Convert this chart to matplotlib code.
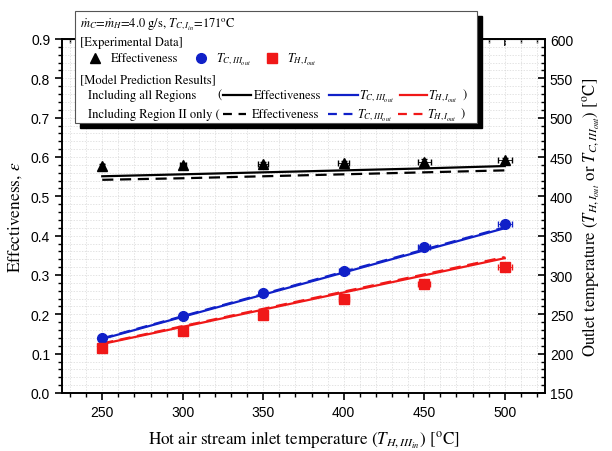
import matplotlib
matplotlib.use("Agg")
import matplotlib.pyplot as plt
from matplotlib.ticker import MultipleLocator
from matplotlib.lines import Line2D
from matplotlib.patches import Rectangle

plt.rcParams['mathtext.fontset'] = 'stix'
plt.rcParams['font.family'] = ['STIXGeneral', 'Liberation Serif', 'DejaVu Serif']

# ---- data ----
t_hot_in = [250, 300, 350, 400, 450, 500]
eff_exp = [0.578, 0.580, 0.583, 0.585, 0.588, 0.592]
eff_err_x = [1.0, 2.0, 3.0, 3.5, 4.0, 4.5]
eff_err_y = [0.003, 0.004, 0.005, 0.005, 0.006, 0.006]
tc_exp = [219.6, 248.3, 276.8, 305.6, 335.4, 364.6]
th_exp = [207.2, 228.5, 249.2, 269.2, 289.1, 309.9]
t_err_x = [1.0, 2.0, 2.5, 3.0, 3.7, 4.5]
t_err_y = [1.5, 1.5, 2.0, 2.0, 2.5, 2.5]

eff_model_all = [0.551, 0.556, 0.561, 0.566, 0.571, 0.577]
eff_model_r2 = [0.542, 0.546, 0.551, 0.556, 0.561, 0.566]
tc_model_all = [218.7, 246.9, 275.0, 303.2, 331.4, 359.5]
th_model_all = [212.3, 234.1, 256.0, 277.8, 299.6, 321.4]
tc_model_r2 = [219.4, 247.7, 275.9, 304.2, 332.4, 360.6]
th_model_r2 = [213.0, 235.0, 257.0, 278.9, 300.8, 322.8]

BLUE = '#1020c8'
RED = '#f01818'

W, H = 612, 452
fig = plt.figure(figsize=(W / 100, H / 100), dpi=100)
def fx(px):
    return px / W
def fy(py):
    return 1 - py / H

ax = fig.add_axes([fx(62), fy(394), fx(545) - fx(62), fy(40) - fy(394)])
ax2 = ax.twinx()

ax.set_xlim(225, 525)
ax.set_ylim(0.0, 0.9)
ax2.set_ylim(150, 600)
ax.xaxis.set_major_locator(MultipleLocator(50))
ax.xaxis.set_minor_locator(MultipleLocator(10))
ax.yaxis.set_major_locator(MultipleLocator(0.1))
ax.yaxis.set_minor_locator(MultipleLocator(0.02))
ax2.yaxis.set_major_locator(MultipleLocator(50))
ax2.yaxis.set_minor_locator(MultipleLocator(10))
ax.grid(which='both', color='#d8d8d8', linestyle=(0, (2, 2)), linewidth=0.5)
ax.set_axisbelow(True)

ax.tick_params(axis='both', which='major', direction='out', length=5, width=1.2)
ax.tick_params(axis='both', which='minor', direction='out', length=3, width=1.0)
ax2.tick_params(axis='y', which='major', direction='in', length=5, width=1.2)
ax2.tick_params(axis='y', which='minor', direction='in', length=3, width=1.0)
for lab in ax.get_xticklabels() + ax.get_yticklabels() + ax2.get_yticklabels():
    lab.set_fontfamily('Liberation Sans')
    lab.set_fontsize(10)
ax.yaxis.set_major_formatter(matplotlib.ticker.FormatStrFormatter('%.1f'))

secx = ax.secondary_xaxis('top')
secx.xaxis.set_major_locator(MultipleLocator(50))
secx.xaxis.set_minor_locator(MultipleLocator(10))
secx.tick_params(axis='x', which='major', direction='in', length=5, width=1.2, labeltop=False)
secx.tick_params(axis='x', which='minor', direction='in', length=3, width=1.0)

for a in (ax, ax2):
    for s in a.spines.values():
        s.set_linewidth(1.2)

# model lines
ax.plot(t_hot_in, eff_model_all, color='black', lw=1.6, zorder=3)
ax.plot(t_hot_in, eff_model_r2, color='black', lw=1.6, dashes=(5, 3), zorder=3)
ax2.plot(t_hot_in, tc_model_all, color=BLUE, lw=1.6, zorder=3)
ax2.plot(t_hot_in, tc_model_r2, color=BLUE, lw=1.6, dashes=(5, 3), zorder=3)
ax2.plot(t_hot_in, th_model_all, color=RED, lw=1.6, zorder=3)
ax2.plot(t_hot_in, th_model_r2, color=RED, lw=1.6, dashes=(5, 3), zorder=3)

# experimental data
ax.errorbar(t_hot_in, eff_exp, xerr=eff_err_x, yerr=eff_err_y, fmt='^', color='black',
            ms=7, elinewidth=0.6, capsize=2, zorder=4)
ax2.errorbar(t_hot_in, tc_exp, xerr=t_err_x, yerr=t_err_y, fmt='o', color=BLUE,
             ms=7, elinewidth=0.6, capsize=2, zorder=4)
ax2.errorbar(t_hot_in, th_exp, xerr=t_err_x, yerr=t_err_y, fmt='s', color=RED,
             ms=6.5, elinewidth=0.6, capsize=2, zorder=4)

# labels
ax.set_xlabel(r"Hot air stream inlet temperature ($T_{H,III_{in}}$) [$^{\rm o}$C]", fontsize=12.3, labelpad=7)
ax.set_ylabel(r"Effectiveness, $\varepsilon$", fontsize=12.5, labelpad=5)
ax2.set_ylabel(r"Outlet temperature ($T_{H,I_{out}}$ or $T_{C,III_{out}}$) [$^{\rm o}$C]", fontsize=12, labelpad=5)

# legend box (drawn manually)
bx0, by0, bx1, by1 = 75, 12, 477, 124
fig.patches.append(Rectangle((fx(bx0 + 5), fy(by1 + 5)), fx(bx1) - fx(bx0), fy(by0) - fy(by1),
                             transform=fig.transFigure, facecolor='black', edgecolor='black', zorder=5))
fig.patches.append(Rectangle((fx(bx0), fy(by1)), fx(bx1) - fx(bx0), fy(by0) - fy(by1),
                             transform=fig.transFigure, facecolor='white', edgecolor='#555555',
                             linewidth=0.8, zorder=6))

fs = 9
def t(px, py, s):
    fig.text(fx(px), fy(py), s, fontsize=fs, va='center', ha='left', zorder=7)
def mk(px, py, m, c, ms):
    fig.add_artist(Line2D([fx(px)], [fy(py)], marker=m, color=c, ms=ms, ls='none',
                          transform=fig.transFigure, zorder=7))
def ln(px0, px1, py, c, dashed=False):
    l = Line2D([fx(px0), fx(px1)], [fy(py), fy(py)], color=c, lw=1.6,
               transform=fig.transFigure, zorder=7)
    if dashed:
        l.set_dashes((4, 3))
    fig.add_artist(l)

t(80, 24, r"$\dot{m}_C$=$\dot{m}_H$=4.0 g/s, $T_{C,I_{in}}$=171$^{\rm o}$C")
t(80, 43, "[Experimental Data]")
mk(95, 59, '^', 'black', 7)
t(111, 59, "Effectiveness")
mk(201, 59, 'o', BLUE, 7)
t(216, 59, r"$T_{C,III_{out}}$")
mk(272, 59, 's', RED, 6.5)
t(287, 59, r"$T_{H,I_{out}}$")
t(80, 80, "[Model Prediction Results]")
t(88, 96, "Including all Regions")
t(217, 96, "(")
ln(223, 251, 96, 'black')
t(254, 96, "Effectiveness")
ln(329, 358, 96, BLUE)
t(359, 96, r"$T_{C,III_{out}}$")
ln(400, 427, 96, RED)
t(428, 96, r"$T_{H,I_{out}}$")
t(463, 96, ")")
t(88, 115, "Including Region II only (")
ln(223, 246, 115, 'black', dashed=True)
t(252, 115, "Effectiveness")
ln(328, 355, 115, BLUE, dashed=True)
t(357, 115, r"$T_{C,III_{out}}$")
ln(398, 425, 115, RED, dashed=True)
t(427, 115, r"$T_{H,I_{out}}$")
t(461, 115, ")")

fig.savefig("out.png", dpi=100)
